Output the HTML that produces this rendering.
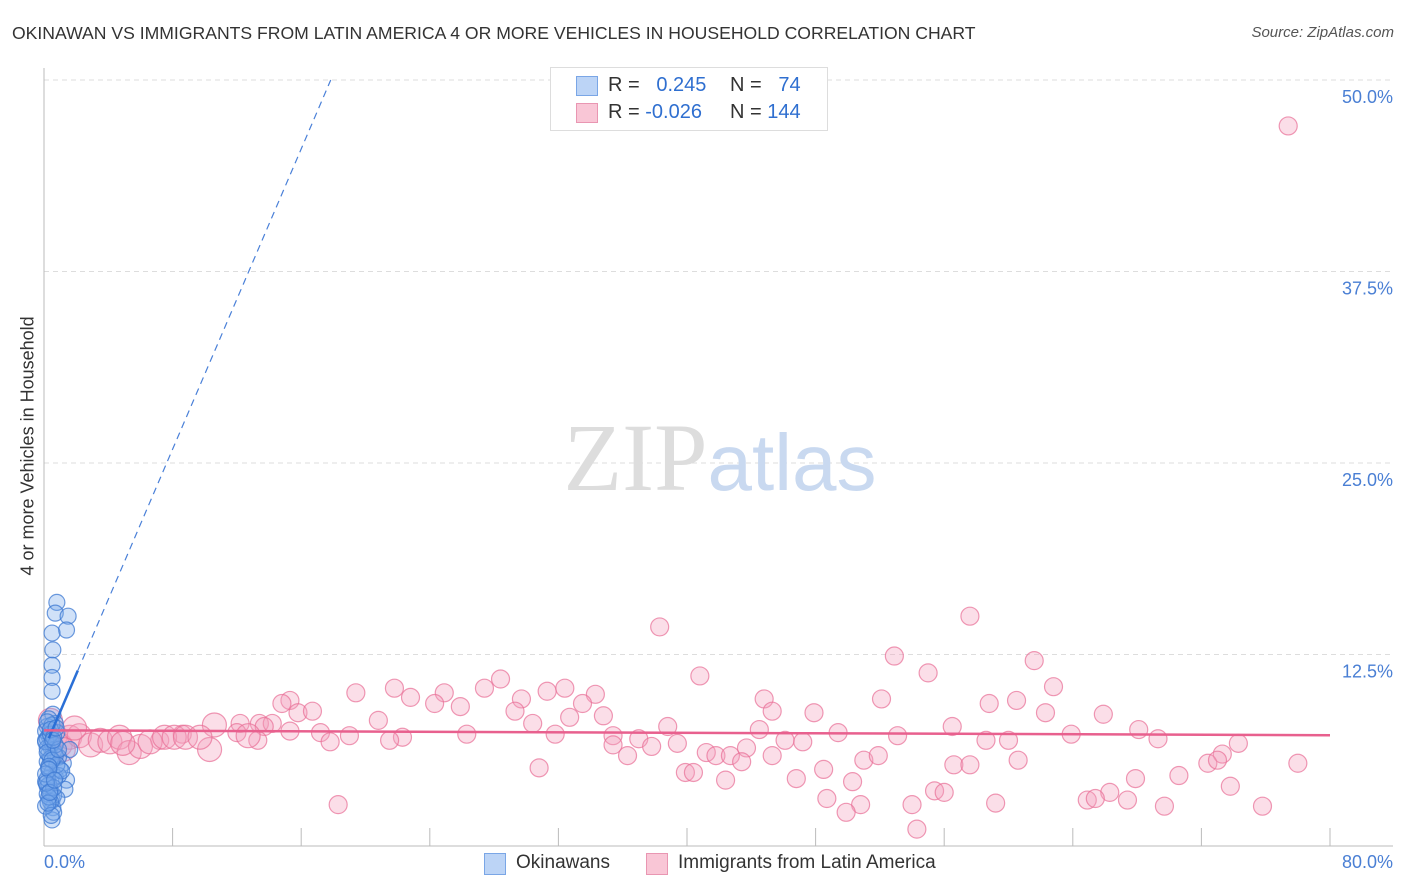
<!DOCTYPE html>
<html><head><meta charset="utf-8"><style>
body{margin:0;background:#fff;font-family:"Liberation Sans",sans-serif}
#wrap{position:relative;width:1406px;height:892px;overflow:hidden}
.t{position:absolute;white-space:nowrap}
</style></head><body>
<div id="wrap">
<div class="t" style="left:12px;top:23px;font-size:17.6px;color:#333">OKINAWAN VS IMMIGRANTS FROM LATIN AMERICA 4 OR MORE VEHICLES IN HOUSEHOLD CORRELATION CHART</div>
<div class="t" style="right:12px;top:24px;font-size:15px;color:#555;font-style:italic">Source: ZipAtlas.com</div>
<div class="t" style="left:-92px;top:445px;transform:rotate(-90deg);font-size:18px;color:#333;width:240px;text-align:center">4 or more Vehicles in Household</div>
<svg id="svg" width="1406" height="892" style="position:absolute;left:0;top:0"></svg>
</div>
<script>
const xTicks=[0,8,16,24,32,40,48,56,64,72,80];
const yTicks=[12.5,25,37.5,50];
const yTickLabels=["12.5%","25.0%","37.5%","50.0%"];
const blueX=[0.8,0.7,1.5,1.4,0.5,0.55,0.5,0.5,0.5,0.55,0.7,0.8,1.6,1.2,1.4,1.3,0.5,0.55,0.5,0.2,0.3,0.1,0.4,0.6,0.9,0.2,0.3,0.5,0.7,0.1,0.2,0.4,0.6,0.8,1.0,0.3,0.1,0.2,0.5,0.7,0.9,0.3,0.2,0.4,0.6,0.1,0.3,0.5,0.2,0.4,0.8,1.1,0.2,0.6,0.3,0.1,0.4,0.7,0.2,0.5,0.3,0.1,0.9,0.2,0.4,0.6,0.3,0.15,0.45,0.25,0.35,0.55,0.75,0.65];
const blueY=[15.9,15.2,15.0,14.1,13.9,12.8,11.8,11.0,10.1,8.6,8.0,7.4,6.3,5.4,4.3,3.7,3.0,2.5,1.7,7.8,7.2,6.9,6.5,6.2,5.8,5.5,5.1,4.8,4.5,4.2,3.9,3.6,3.3,3.1,5.0,6.0,7.5,7.0,6.7,5.9,4.6,4.0,3.4,2.9,2.2,2.6,8.3,7.9,6.4,5.7,5.3,4.9,4.4,3.8,3.2,6.8,7.3,6.6,6.1,5.6,5.2,4.7,6.3,8.1,7.6,7.1,5.0,4.1,2.0,2.8,3.5,6.9,7.7,4.3];
const pinkX=[77.4,38.3,57.6,52.9,61.6,40.8,55.0,28.4,62.8,19.4,21.8,22.8,24.9,27.4,31.3,32.4,34.3,15.3,52.1,44.8,58.8,60.5,24.3,25.9,29.7,14.8,33.5,15.8,16.7,20.8,29.3,32.7,34.8,45.3,47.9,62.3,65.9,12.2,13.4,14.2,13.7,30.4,38.8,44.5,56.5,68.1,63.9,69.3,53.1,49.4,35.4,37.0,26.3,22.3,19.0,17.2,12.0,8.6,7.2,13.3,15.3,17.8,21.5,31.8,35.4,37.8,39.4,43.7,47.2,46.1,58.6,60.0,74.3,73.3,72.4,73.0,41.2,41.8,42.7,43.4,45.3,36.3,51.0,51.9,60.6,56.6,57.6,78.0,30.8,39.9,40.4,48.5,46.8,50.3,42.4,67.9,70.6,55.4,56.0,66.3,73.8,48.7,64.9,65.4,67.4,18.3,50.8,54.0,59.2,69.7,75.8,49.9,54.3,0.4,0.7,1.0,1.6,2.2,2.9,3.5,4.1,4.7,5.3,6.0,6.6,7.5,8.1,8.8,10.3,10.6,9.7,12.7,4.9,1.2,1.9];
const pinkY=[47.0,14.3,15.0,12.4,12.1,11.1,11.3,10.9,10.4,10.0,10.3,9.7,10.0,10.3,10.1,10.3,9.9,9.5,9.6,9.6,9.3,9.5,9.3,9.1,9.6,9.3,9.3,8.7,8.8,8.2,8.8,8.4,8.5,8.8,8.7,8.7,8.6,8.0,8.0,8.0,7.8,8.0,7.8,7.6,7.8,7.6,7.3,7.0,7.2,7.4,7.2,7.0,7.3,7.1,7.2,7.4,7.4,7.3,6.9,6.9,7.5,6.8,6.9,7.3,6.6,6.5,6.7,6.4,6.8,6.9,6.9,6.9,6.7,6.0,5.4,5.6,6.1,5.9,5.9,5.5,5.9,5.9,5.6,5.9,5.6,5.3,5.3,5.4,5.1,4.8,4.8,5.0,4.4,4.2,4.3,4.4,4.6,3.6,3.5,3.5,3.9,3.1,3.0,3.1,3.0,2.7,2.7,2.7,2.8,2.6,2.6,2.2,1.1,8.2,7.2,6.6,7.1,7.2,6.6,6.9,6.8,7.1,6.1,6.5,6.8,7.1,7.1,7.1,6.3,7.9,7.1,7.2,6.7,6.3,7.7];
const blueTrend=[6.3,2.45];
const pinkTrend=[7.55,-0.004];
const X=v=>44+v*(1286/80);
const Y=v=>846-v*15.32;
const svg=document.getElementById('svg');
const NS='http://www.w3.org/2000/svg';
function mk(t,a){const e=document.createElementNS(NS,t);for(const k in a)e.setAttribute(k,a[k]);svg.appendChild(e);return e;}
yTicks.forEach((v,i)=>{
 const g=mk('line',{x1:44,x2:1393,y1:Y(v),y2:Y(v),stroke:'#ddd','stroke-dasharray':'5,4'});
 
 
 const t=mk('text',{x:1393,y:Y(v)+23,'text-anchor':'end','font-size':18,fill:'#4a7fd4','font-family':'Liberation Sans'});
 t.textContent=yTickLabels[i];
 
 
});
const ax=mk('line',{x1:44,x2:44,y1:68,y2:846,stroke:'#bbb'});


const bx=mk('line',{x1:44,x2:1393,y1:846,y2:846,stroke:'#bbb'});


xTicks.forEach(v=>{const l=mk('line',{x1:X(v),x2:X(v),y1:828,y2:846,stroke:'#bbb'});
 
 });
const wm=mk('text',{x:720,y:490,'text-anchor':'middle','font-size':96,fill:'#ddd','font-family':'Liberation Serif'});


wm.innerHTML='ZIP<tspan fill="#c9d9f0" font-family="Liberation Sans" font-size="80">atlas</tspan>';
pinkX.forEach((x,i)=>{const c=mk('circle',{cx:X(x),cy:Y(pinkY[i]),r:i>=113?12:9,fill:'rgba(244,160,190,0.35)',stroke:'rgba(232,110,150,0.7)','stroke-width':1.2});
 
 });
blueX.forEach((x,i)=>{const c=mk('circle',{cx:X(x),cy:Y(blueY[i]),r:8,fill:'rgba(120,170,235,0.35)',stroke:'rgba(60,120,210,0.75)','stroke-width':1.2});
 
 });
const bxe=(50-blueTrend[0])/blueTrend[1];
const bd=mk('line',{x1:X(2.1),y1:Y(blueTrend[0]+blueTrend[1]*2.1),x2:X(bxe),y2:Y(50),stroke:'#4a80d8','stroke-width':1.2,'stroke-dasharray':'7,5'});


const bs=mk('line',{x1:X(0.3),y1:Y(blueTrend[0]+blueTrend[1]*0.3),x2:X(2.1),y2:Y(blueTrend[0]+blueTrend[1]*2.1),stroke:'#2a6fd6','stroke-width':2.5});


const ps=mk('line',{x1:X(0),y1:Y(pinkTrend[0]),x2:X(80),y2:Y(pinkTrend[0]+pinkTrend[1]*80),stroke:'#e8608e','stroke-width':2.5});


</script>
<div class="t" style="left:550px;top:67px;width:276px;height:62px;border:1px solid #ddd;background:#fff">
 <div class="t" style="left:25px;top:8px;width:20px;height:18px;background:#bcd4f6;border:1px solid #7aa6e6"></div>
 <div class="t" style="left:25px;top:35px;width:20px;height:18px;background:#f9c6d6;border:1px solid #e996b2"></div>
 <div class="t" style="left:57px;top:6px;font-size:20px;color:#333">R = &nbsp; <span style="color:#2f6fd0">0.245</span></div>
 <div class="t" style="left:179px;top:6px;font-size:20px;color:#333">N = &nbsp; <span style="color:#2f6fd0">74</span></div>
 <div class="t" style="left:57px;top:33px;font-size:20px;color:#333">R = <span style="color:#2f6fd0">-0.026</span></div>
 <div class="t" style="left:179px;top:33px;font-size:20px;color:#333">N = <span style="color:#2f6fd0">144</span></div>
</div>
<div class="t" style="left:44px;top:852px;font-size:18px;color:#4a7fd4">0.0%</div>
<div class="t" style="right:13px;top:852px;font-size:18px;color:#4a7fd4">80.0%</div>
<div class="t" style="left:484px;top:853px;width:20px;height:20px;background:#bcd4f6;border:1px solid #7aa6e6"></div>
<div class="t" style="left:516px;top:852px;font-size:19px;color:#333">Okinawans</div>
<div class="t" style="left:646px;top:853px;width:20px;height:20px;background:#f9c6d6;border:1px solid #e996b2"></div>
<div class="t" style="left:678px;top:852px;font-size:19px;color:#333">Immigrants from Latin America</div>
</body></html>
